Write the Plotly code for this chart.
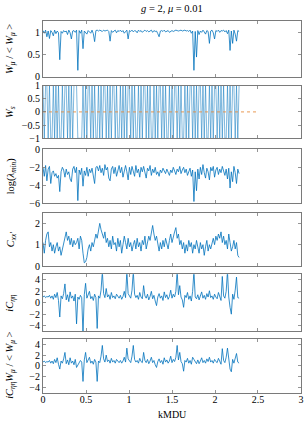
import plotly.graph_objects as go

# sampling grid (kMDU)
kmdu = [round(i * 0.015, 3) for i in range(153)]

w_ratio = [
    1.04, 0.98, 1.05, 0.90, 1.03, 0.86, 1.04, 1.00, 0.92, 1.05,
    0.97, 1.03, 0.99, 0.38, 1.02, 0.98, 1.04, 1.01, 1.03, 0.95,
    1.05, 0.99, 0.85, 1.03, 1.04, 1.00, 1.05, 0.14, 1.04, 0.98,
    1.05, 0.63, 1.03, 1.00, 0.96, 1.04, 1.02, 0.98, 1.05, 0.97,
    0.79, 1.04, 1.05, 1.03, 1.05, 1.04, 1.02, 1.05, 1.03, 1.04,
    1.05, 1.02, 0.80, 1.04, 1.00, 1.03, 1.05, 0.99, 1.04, 1.02,
    1.05, 1.01, 1.04, 0.98, 1.03, 1.05, 0.85, 1.04, 1.02, 1.05,
    1.01, 1.04, 1.03, 0.99, 1.05, 1.02, 1.04, 1.00, 1.03, 1.05,
    1.02, 1.04, 1.01, 1.03, 1.05, 1.00, 1.04, 1.02, 1.03, 0.97,
    0.90, 1.03, 1.04, 1.02, 1.05, 1.01, 1.03, 1.04, 1.00, 1.03,
    1.04, 1.02, 1.03, 1.05, 1.04, 1.03, 1.04, 1.05, 1.03, 1.04,
    1.05, 1.03, 1.04, 1.02, 1.05, 0.98, 1.03, 0.14, 1.02, 0.44,
    1.04, 0.95, 1.03, 1.00, 1.05, 1.01, 0.96, 1.04, 1.02, 0.75,
    1.03, 1.05, 0.99, 0.85, 1.04, 1.02, 1.05, 1.00, 1.04, 1.03,
    1.05, 1.01, 1.04, 0.97, 1.05, 0.59, 1.03, 0.75, 1.05, 0.96,
    0.80, 1.04, 1.02,
]

w_s = [
    1, -1, 1, 1, -1, 1, -1, -1, 1, -1,
    1, -1, 1, -1, -1, 1, -1, 1, 1, -1,
    1, -1, 1, -1, 1, 1, 1, -1, -1, -1,
    -1, 1, -1, 1, -1, 1, 1, -1, 1, -1,
    1, -1, -1, 1, -1, 1, -1, 1, 1, -1,
    1, -1, 1, -1, 1, 1, -1, 1, -1, -1,
    1, -1, 1, -1, 1, -1, 1, 1, -1, 1,
    -1, 1, -1, -1, 1, -1, 1, -1, 1, 1,
    -1, 1, -1, 1, -1, -1, 1, -1, 1, -1,
    1, 1, -1, 1, -1, 1, -1, -1, 1, -1,
    1, -1, 1, 1, -1, 1, -1, 1, -1, -1,
    1, -1, 1, -1, 1, 1, -1, 1, -1, 1,
    -1, 1, 1, -1, 1, -1, 1, -1, -1, 1,
    -1, 1, -1, 1, 1, -1, 1, -1, 1, -1,
    1, -1, -1, 1, -1, 1, -1, 1, 1, -1,
    1, -1, 1,
]

ref_x = [0.0, 2.5]
ref_y = [0.0, 0.0]

log_lmin = [
    -2.0, -3.0, -1.8, -3.5, -2.2, -1.9, -3.8, -2.6, -2.4, -3.0,
    -2.7, -3.2, -2.9, -4.7, -2.5, -2.0, -2.3, -3.1, -2.2, -2.8,
    -2.5, -3.3, -3.6, -2.2, -1.9, -2.6, -2.0, -5.7, -2.3, -2.8,
    -2.1, -4.1, -2.4, -2.9, -2.0, -3.0, -2.2, -2.6, -2.1, -3.2,
    -3.8, -2.0, -1.9, -2.4, -1.8, -2.6, -2.1, -2.9, -1.7, -2.3,
    -2.0, -3.2, -3.5, -2.2, -1.9, -2.7, -2.0, -3.0, -2.3, -1.8,
    -2.6, -2.0, -3.1, -2.2, -1.8, -2.5, -3.4, -2.0, -2.8, -1.9,
    -2.4, -3.0, -1.8, -2.6, -2.2, -3.1, -2.0, -2.5, -1.9, -2.7,
    -3.2, -2.1, -2.4, -1.8, -2.9, -2.2, -2.6, -2.0, -2.8, -2.5,
    -3.0, -2.3, -2.6, -2.1, -2.4, -2.7, -2.2, -2.5, -2.9, -2.3,
    -2.6, -2.0, -2.4, -2.8, -2.2, -2.5, -1.9, -2.7, -2.3, -2.0,
    -2.6, -2.2, -2.9, -2.4, -2.1, -3.0, -2.3, -5.8, -2.5, -4.6,
    -2.2, -3.3, -2.0, -2.8, -1.7, -2.6, -3.2, -2.1, -2.5, -3.4,
    -2.0, -2.4, -1.9, -3.1, -2.3, -2.0, -2.8, -2.2, -2.6, -1.9,
    -2.4, -2.9, -2.2, -3.3, -2.1, -4.3, -2.5, -3.6, -1.9, -2.6,
    -3.8, -2.2, -2.7,
]

c_xx = [
    1.1, 0.6, 1.2, 1.5, 1.6, 0.9, 1.1, 0.7, 1.0, 0.6,
    0.9, 1.1, 0.7, 0.9, 0.5, 0.8, 1.1, 1.3, 1.6, 1.2,
    1.4, 1.0, 1.3, 0.9, 1.2, 1.0, 1.1, 1.3, 0.8, 1.4,
    1.2, 0.6, 0.15, 0.2, 0.4, 0.8, 1.0, 0.7, 1.1, 0.9,
    1.2, 1.5, 1.3, 1.6, 2.0, 1.7, 1.5, 1.3, 1.6, 1.1,
    1.3, 0.9, 1.2, 0.8, 1.4, 1.0, 1.1, 0.7, 1.3, 0.9,
    1.2, 0.6, 1.0, 1.4, 1.1, 0.8, 1.3, 0.9, 1.1, 0.7,
    1.0, 1.2, 0.8, 1.3, 0.9, 1.1, 0.7, 1.2, 1.0, 1.4,
    0.8, 1.1, 1.4, 1.2, 1.6, 1.9, 1.5, 1.2, 1.4, 1.0,
    0.7, 1.1, 0.8, 1.2, 0.9, 1.3, 1.0, 0.8, 1.2, 1.5,
    1.1, 1.4, 1.6, 1.8, 1.3, 1.5, 1.0, 1.2, 0.8, 1.1,
    0.6, 1.0, 0.7, 1.2, 0.9, 1.1, 0.6, 1.0, 0.8, 1.2,
    0.9, 0.6, 1.1, 0.8, 1.0, 0.5, 0.9, 1.2, 0.7, 1.0,
    0.8, 1.1, 1.3, 1.0, 1.4, 1.2, 1.5, 1.3, 1.6, 1.1,
    1.4, 1.0, 1.2, 0.8, 1.5, 1.1, 0.7, 0.9, 1.2, 0.8,
    1.1, 0.5, 0.4,
]

ic_eta = [
    1.0, 1.2, 0.9, 1.1, 1.0, 1.3, 0.8, 1.2, 0.6, 1.5,
    0.9, 1.8, 0.4, -2.5, 1.2, 0.7, 1.6, 3.3, 0.5, 1.4,
    0.2, 1.9, 0.8, 1.2, 0.3, 1.5, -3.7, 1.0, 0.6, 1.3,
    0.9, -5.5, 1.4, 3.4, 0.8, 1.6, 2.0, 0.7, 1.1, 0.4,
    1.5, 0.9, -4.5, 1.2, 0.8, 2.2, 5.5, 1.6, 0.9, 2.5,
    1.0, 1.4, 0.6, 1.8, 0.9, 1.2, 0.7, 1.5, 1.0, 0.8,
    1.3, 0.6, 1.1, 2.0, 0.9, 5.5, 1.6, 1.1, 0.8, 2.2,
    5.5, 1.5, 0.9, 1.3, 0.6, 1.8, 1.0, 0.7, 3.0, 1.2,
    0.8, 1.5, 0.5, 1.1, 2.0, 0.7, 1.3, 0.3, -0.5, 1.0,
    1.6, 0.8, 1.2, 0.4, 1.9, 0.9, 1.4, 0.6, 1.1, 2.2,
    0.8, 1.5, 1.0, 2.0, 5.5, 1.4, 3.0, 1.0, 0.5, -0.8,
    1.3, 0.9, 1.8, 0.6, 1.2, 0.3, 2.0, 5.5, 1.0, 0.7,
    1.4, 0.5, 1.1, 1.9, 0.8, 1.3, 0.6, 1.6, 1.0, 2.1,
    0.9, 1.2, 0.6, 1.5, 1.0, 0.7, 1.8, 1.1, 0.4, 4.6,
    1.2, 0.8, 2.0, 5.5, 1.0, -0.8, -2.0, 1.5, 0.6, 2.2,
    4.5, 0.9, 0.8,
]

ic_eta_w = [
    0.7, 0.9, 0.6, 0.8, 0.7, 1.0, 0.5, 0.9, 0.4, 1.2,
    0.6, 1.5, 0.3, -0.6, 0.9, 0.5, 1.3, 2.5, 0.4, 1.1,
    0.2, 1.5, 0.5, 0.9, 0.2, 1.2, -0.3, 0.2, 0.4, 1.0,
    0.7, -2.9, 1.1, 2.5, 0.6, 1.3, 1.6, 0.5, 0.9, 0.3,
    1.2, 0.7, -2.9, 0.9, 0.6, 1.8, 3.8, 1.3, 0.7, 2.0,
    0.8, 1.1, 0.5, 1.4, 0.7, 1.0, 0.5, 1.2, 0.8, 0.6,
    1.0, 0.5, 0.9, 1.6, 0.7, 3.3, 1.3, 0.9, 0.6, 1.8,
    3.8, 1.2, 0.7, 1.0, 0.5, 1.4, 0.8, 0.6, 2.5, 1.0,
    0.6, 1.2, 0.4, 0.9, 1.6, 0.6, 1.0, 0.2, -0.3, 0.8,
    1.3, 0.6, 1.0, 0.3, 1.5, 0.7, 1.1, 0.5, 0.9, 1.8,
    0.6, 1.2, 0.8, 1.6, 3.8, 1.1, 2.5, 0.8, 0.4, -1.0,
    1.0, 0.7, 1.4, 0.5, 1.0, 0.3, 1.6, 1.2, 0.8, 0.4,
    1.1, 0.4, 0.9, 1.5, 0.6, 1.0, 0.5, 1.3, 0.8, 1.6,
    0.7, 1.0, 0.5, 1.2, 0.8, 0.6, 1.4, 0.9, 0.3, 3.2,
    1.0, 0.6, 1.6, 3.3, 0.8, -0.6, -1.1, 1.2, 0.5, 1.7,
    2.3, 0.7, 0.5,
]

x_ticks = [0, 0.5, 1, 1.5, 2, 2.5, 3]
x_ticktext = ["0", "0.5", "1", "1.5", "2", "2.5", "3"]

panels = [
    dict(y=w_ratio, yr=[0, 1.25], tv=[0, 0.5, 1], tt=["0", "0.5", "1"],
         lab="<i>W<sub>μ</sub></i> / &lt; <i>W<sub>μ</sub></i> &gt;", px=(21.3, 76.5)),
    dict(y=w_s, yr=[-1, 1], tv=[-1, -0.5, 0, 0.5, 1], tt=["−1", "−0.5", "0", "0.5", "1"],
         lab="<i>W<sub>s</sub></i>", px=(85.5, 138.3)),
    dict(y=log_lmin, yr=[-6, 0], tv=[-6, -4, -2, 0], tt=["−6", "−4", "−2", "0"],
         lab="log(<i>λ<sub>min</sub></i>)", px=(149.3, 203.3)),
    dict(y=c_xx, yr=[0, 2.5], tv=[0, 1, 2], tt=["0", "1", "2"],
         lab="<i>C<sub>xx'</sub></i>", px=(212.7, 266)),
    dict(y=ic_eta, yr=[-5, 5], tv=[-4, -2, 0, 2, 4], tt=["−4", "−2", "0", "2", "4"],
         lab="<i>iC<sub>ηη</sub></i>", px=(274.2, 331.3)),
    dict(y=ic_eta_w, yr=[-5, 5], tv=[-4, -2, 0, 2, 4], tt=["−4", "−2", "0", "2", "4"],
         lab="<i>iC<sub>ηη</sub>W<sub>μ</sub></i> / &lt; <i>W<sub>μ</sub></i> &gt;", px=(339, 392.7)),
]

W, H = 308, 423
ML, MR, MT, MB = 43, 7, 21, 30
PH = H - MT - MB
PW = W - ML - MR
blue = "#0072BD"
frame = "#7a7a7a"
font_family = "Liberation Serif, DejaVu Serif, serif"

fig = go.Figure()
layout = dict(
    width=W, height=H,
    margin=dict(l=ML, r=MR, t=MT, b=MB, pad=0, autoexpand=False),
    paper_bgcolor="white", plot_bgcolor="white",
    showlegend=False,
    font=dict(family=font_family, size=10, color="black"),
)
annotations = []
for k, p in enumerate(panels):
    n = k + 1
    xa = "x" if n == 1 else f"x{n}"
    ya = "y" if n == 1 else f"y{n}"
    top, bot = p["px"]
    dom = [(H - MB - bot) / PH, (H - MB - top) / PH]
    lw = 0.5 if n == 2 else 0.8
    fig.add_trace(go.Scatter(x=kmdu, y=p["y"], mode="lines",
                             line=dict(color=blue, width=lw),
                             xaxis=xa, yaxis=ya, hoverinfo="skip"))
    if n == 2:
        fig.add_trace(go.Scatter(x=ref_x, y=ref_y, mode="lines",
                                 line=dict(color="rgba(230,140,60,0.7)", width=1.2, dash="dot"),
                                 xaxis=xa, yaxis=ya, hoverinfo="skip"))
    last = n == len(panels)
    layout["xaxis" if n == 1 else f"xaxis{n}"] = dict(
        domain=[0, 1], range=[-0.0001, 3.0001], anchor=ya,
        tickvals=x_ticks, ticktext=x_ticktext, showticklabels=last,
        ticklabeloverflow="allow", ticklabelstandoff=-3,
        ticks="inside", ticklen=3, tickcolor=frame, tickwidth=0.8,
        showline=True, linecolor=frame, linewidth=1, mirror="ticks",
        showgrid=False, zeroline=False, automargin=False,
        tickfont=dict(size=10, family=font_family),
    )
    layout["yaxis" if n == 1 else f"yaxis{n}"] = dict(
        domain=dom, range=p["yr"], anchor=xa,
        tickvals=p["tv"], ticktext=p["tt"],
        ticks="inside", ticklen=3, tickcolor=frame, tickwidth=0.8,
        showline=True, linecolor=frame, linewidth=1, mirror="ticks",
        showgrid=False, zeroline=False, automargin=False,
        tickfont=dict(size=10, family=font_family),
    )
    annotations.append(dict(
        text=p["lab"], textangle=-90, showarrow=False,
        xref="paper", yref="paper",
        x=(11 - ML) / PW, y=(dom[0] + dom[1]) / 2,
        xanchor="center", yanchor="middle",
        font=dict(size=10.5, family=font_family),
    ))

annotations.append(dict(
    text="<i>g</i> = 2, <i>μ</i> = 0.01", showarrow=False,
    xref="paper", yref="paper", x=(172 - ML) / PW, y=(H - MB - 8) / PH,
    xanchor="center", yanchor="middle",
    font=dict(size=10.5, family=font_family),
))
annotations.append(dict(
    text="kMDU", showarrow=False,
    xref="paper", yref="paper", x=(172 - ML) / PW, y=(H - MB - 414) / PH,
    xanchor="center", yanchor="middle",
    font=dict(size=10, family=font_family),
))
layout["annotations"] = annotations
fig.update_layout(**layout)
fig.write_html(
    "out.html",
    config={"displayModeBar": False, "staticPlot": True},
    post_script="document.body.style.margin='0';document.body.style.overflow='hidden';",
)
